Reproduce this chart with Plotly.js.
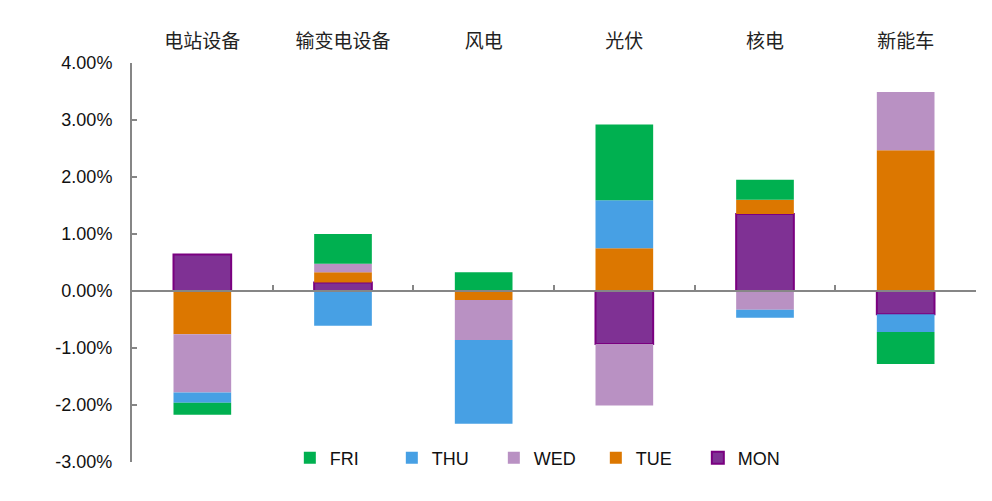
<!DOCTYPE html>
<html>
<head>
<meta charset="utf-8">
<script src="https://cdn.plot.ly/plotly-3.0.1.min.js"></script>
<style>html,body{margin:0;padding:0;background:#fff;}#chart{width:992px;height:501px;}</style>
</head>
<body>
<div id="chart"></div>
<script>
const categories = ['电站设备', '输变电设备', '风电', '光伏', '核电', '新能车'];
const MON = [0.64, 0.15, 0.00, -0.93, 1.35, -0.41];
const TUE = [-0.76, 0.18, -0.16, 0.75, 0.25, 2.47];
const WED = [-1.02, 0.15, -0.70, -1.08, -0.33, 1.02];
const THU = [-0.18, -0.61, -1.47, 0.84, -0.14, -0.31];
const FRI = [-0.21, 0.52, 0.33, 1.33, 0.35, -0.56];
const yTicks = [-3, -2, -1, 0, 1, 2, 3, 4];
const yTickText = ['-3.00%', '-2.00%', '-1.00%', '0.00%', '1.00%', '2.00%', '3.00%', '4.00%'];
const boundaries = [0.5, 1.5, 2.5, 3.5, 4.5, 5.5];

const series = [
  {name: 'MON', y: MON, color: '#7F3194', line: '#7A0080', lw: 2},
  {name: 'TUE', y: TUE, color: '#DC7700', line: '#DC7700', lw: 0},
  {name: 'WED', y: WED, color: '#B991C3', line: '#B991C3', lw: 0},
  {name: 'THU', y: THU, color: '#47A0E4', line: '#47A0E4', lw: 0},
  {name: 'FRI', y: FRI, color: '#00B050', line: '#00B050', lw: 0}
];

const traces = series.map(s => ({
  type: 'bar',
  name: s.name,
  x: categories,
  y: s.y,
  marker: {color: s.color, line: {color: s.line, width: s.lw}},
  hoverinfo: 'name+y'
}));
// empty helper trace so that the zero-line category axis (x2) is drawn
traces.push({type: 'scatter', x: [], y: [], xaxis: 'x2', yaxis: 'y', showlegend: false, hoverinfo: 'skip'});

const axisGray = '#868686';
const layout = {
  width: 992, height: 501,
  margin: {l: 132, r: 16, t: 63, b: 39},
  paper_bgcolor: '#fff', plot_bgcolor: '#fff',
  barmode: 'relative',
  bargap: 0.59,
  showlegend: true,
  legend: {
    orientation: 'h', traceorder: 'reversed',
    x: 0.187, xanchor: 'left', y: 0.01, yanchor: 'middle',
    font: {family: 'Liberation Sans, Arial, sans-serif', size: 18, color: '#111'},
    entrywidth: 57, bgcolor: 'rgba(0,0,0,0)'
  },
  xaxis: {
    type: 'category', side: 'top', anchor: 'y',
    range: [-0.5, 5.5],
    showline: false, ticks: '', showgrid: false, zeroline: false,
    tickfont: {family: 'Noto Sans CJK SC, sans-serif', size: 19, color: '#222'},
    ticklabelstandoff: 10
  },
  xaxis2: {
    overlaying: 'x', anchor: 'free', position: 3 / 7,
    range: [-0.5, 5.5], type: 'linear',
    showline: true, linecolor: axisGray, linewidth: 2,
    ticks: 'inside', ticklen: 5, tickwidth: 2, tickcolor: axisGray,
    tickmode: 'array', tickvals: boundaries,
    showticklabels: false, showgrid: false, zeroline: false
  },
  yaxis: {
    range: [-3, 4], domain: [0, 1],
    tickmode: 'array', tickvals: yTicks, ticktext: yTickText,
    showline: true, linecolor: axisGray, linewidth: 2,
    ticks: 'inside', ticklen: 5, tickwidth: 2, tickcolor: axisGray,
    showgrid: false, zeroline: false,
    tickfont: {family: 'Liberation Sans, Arial, sans-serif', size: 18, color: '#111'},
    ticklabelstandoff: 14
  }
};

Plotly.newPlot('chart', traces, layout, {displayModeBar: false, staticPlot: true});
</script>
</body>
</html>
